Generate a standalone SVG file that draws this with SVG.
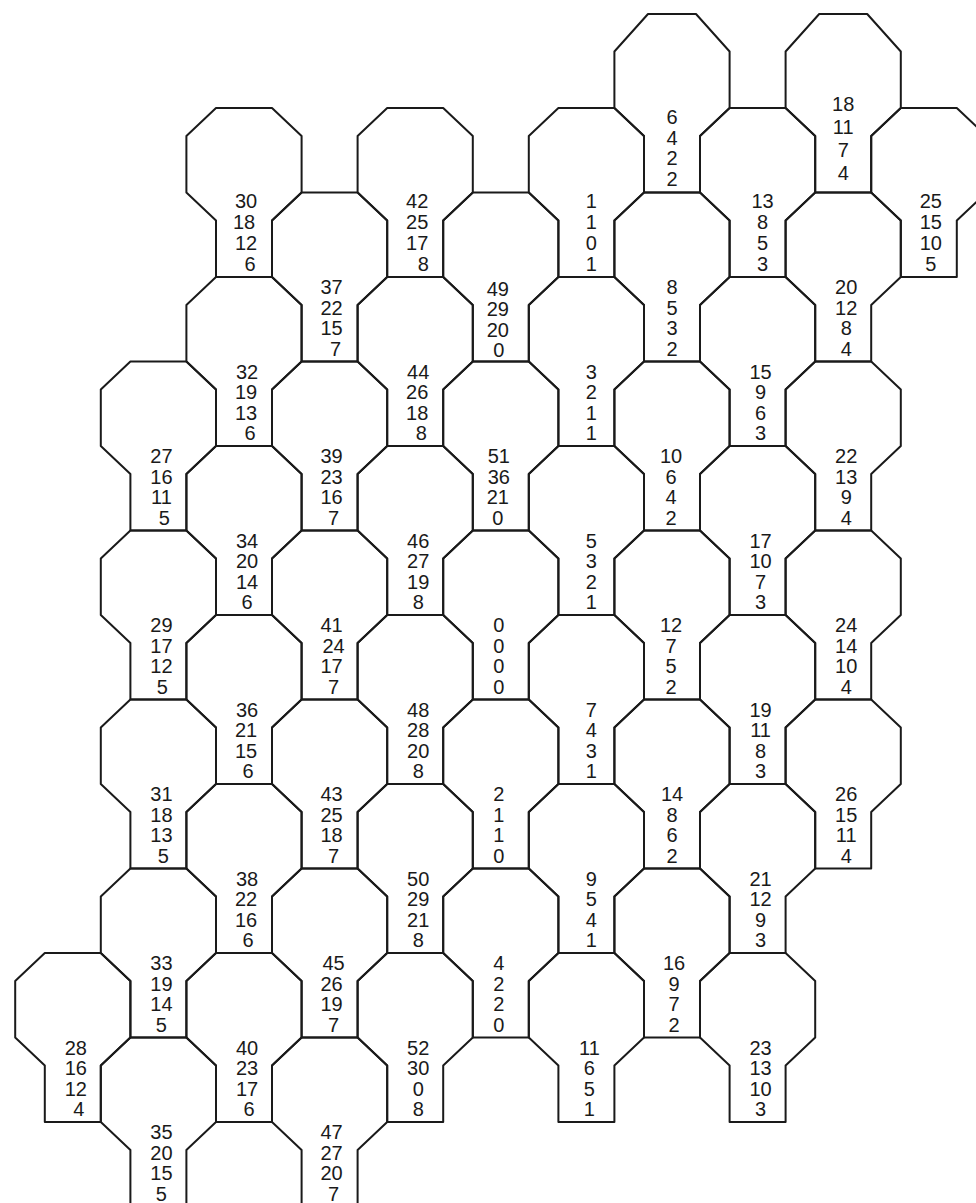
<svg xmlns="http://www.w3.org/2000/svg" xmlns:xlink="http://www.w3.org/1999/xlink" width="976" height="1203" viewBox="0 0 976 1203">
<defs>
<style>
.edge{fill:none;stroke:#1a1a1a;stroke-width:2;stroke-linejoin:round;stroke-linecap:round}
text{font-family:"Liberation Sans","DejaVu Sans",sans-serif;font-size:20px;fill:#1a1a1a;text-anchor:middle}
</style>
<path id="tile" class="edge" d="M-28,0 V-56.5 L-57.6,-84.5 V-141 L-28,-169 H28 L57.6,-141 V-84.5 L28,-56.5 V0 Z"/>
<path id="tall" class="edge" d="M-28,0 V-56.5 L-57.6,-84.5 V-141 L-24,-178.5 H24 L57.6,-141 V-84.5 L28,-56.5 V0 Z"/>
</defs>
<rect width="976" height="1203" fill="#ffffff"/>

<!-- column i=-2 -->
<g id="t28" transform="translate(72.8,1122)"><use href="#tile"/><text x="3" y="-67.5">28</text><text x="3" y="-47">16</text><text x="3" y="-26.5">12</text><text x="6" y="-6">4</text></g>

<!-- column i=-1 -->
<g id="t27" transform="translate(158.4,530.5)"><use href="#tile"/><text x="3" y="-67.5">27</text><text x="3" y="-47">16</text><text x="3" y="-26.5">11</text><text x="6" y="-6">5</text></g>
<g id="t29" transform="translate(158.4,699.5)"><use href="#tile"/><text x="3" y="-67.5">29</text><text x="3" y="-47">17</text><text x="3" y="-26.5">12</text><text x="4" y="-6">5</text></g>
<g id="t31" transform="translate(158.4,868.5)"><use href="#tile"/><text x="3" y="-67.5">31</text><text x="3" y="-47">18</text><text x="3" y="-26.5">13</text><text x="5" y="-6">5</text></g>
<g id="t33" transform="translate(158.4,1037.5)"><use href="#tile"/><text x="3" y="-67.5">33</text><text x="3" y="-47">19</text><text x="3" y="-26.5">14</text><text x="3" y="-6">5</text></g>
<g id="t35" transform="translate(158.4,1206.5)"><use href="#tile"/><text x="3" y="-67.5">35</text><text x="3" y="-47">20</text><text x="3" y="-26.5">15</text><text x="3" y="-6">5</text></g>

<!-- column i=0 -->
<g id="t30" transform="translate(244,277)"><use href="#tile"/><text x="2" y="-69">30</text><text x="0" y="-48">18</text><text x="2" y="-27">12</text><text x="6" y="-6">6</text></g>
<g id="t32" transform="translate(244,446)"><use href="#tile"/><text x="3" y="-67.5">32</text><text x="2" y="-47">19</text><text x="2" y="-26.5">13</text><text x="6" y="-6">6</text></g>
<g id="t34" transform="translate(244,615)"><use href="#tile"/><text x="3" y="-67.5">34</text><text x="3" y="-47">20</text><text x="3" y="-26.5">14</text><text x="3" y="-6">6</text></g>
<g id="t36" transform="translate(244,784)"><use href="#tile"/><text x="3" y="-67.5">36</text><text x="2" y="-47">21</text><text x="2" y="-26.5">15</text><text x="4" y="-6">6</text></g>
<g id="t38" transform="translate(244,953)"><use href="#tile"/><text x="3" y="-67.5">38</text><text x="2" y="-47">22</text><text x="2" y="-26.5">16</text><text x="4" y="-6">6</text></g>
<g id="t40" transform="translate(244,1122)"><use href="#tile"/><text x="3" y="-67.5">40</text><text x="3" y="-47">23</text><text x="3" y="-26.5">17</text><text x="5" y="-6">6</text></g>

<!-- column i=1 -->
<g id="t37" transform="translate(329.6,361.5)"><use href="#tile"/><text x="2" y="-67.5">37</text><text x="2" y="-47">22</text><text x="2" y="-26.5">15</text><text x="6" y="-6">7</text></g>
<g id="t39" transform="translate(329.6,530.5)"><use href="#tile"/><text x="2" y="-67.5">39</text><text x="2" y="-47">23</text><text x="2" y="-26.5">16</text><text x="4" y="-6">7</text></g>
<g id="t41" transform="translate(329.6,699.5)"><use href="#tile"/><text x="2" y="-67.5">41</text><text x="4" y="-47">24</text><text x="2" y="-26.5">17</text><text x="4" y="-6">7</text></g>
<g id="t43" transform="translate(329.6,868.5)"><use href="#tile"/><text x="2" y="-67.5">43</text><text x="2" y="-47">25</text><text x="2" y="-26.5">18</text><text x="4" y="-6">7</text></g>
<g id="t45" transform="translate(329.6,1037.5)"><use href="#tile"/><text x="4" y="-67.5">45</text><text x="2" y="-47">26</text><text x="2" y="-26.5">19</text><text x="4" y="-6">7</text></g>
<g id="t47" transform="translate(329.6,1206.5)"><use href="#tile"/><text x="2" y="-67.5">47</text><text x="2" y="-47">27</text><text x="2" y="-26.5">20</text><text x="4" y="-6">7</text></g>

<!-- column i=2 -->
<g id="t42" transform="translate(415.2,277)"><use href="#tile"/><text x="2" y="-69">42</text><text x="2" y="-48">25</text><text x="2" y="-27">17</text><text x="8" y="-6">8</text></g>
<g id="t44" transform="translate(415.2,446)"><use href="#tile"/><text x="3" y="-67.5">44</text><text x="2" y="-47">26</text><text x="2" y="-26.5">18</text><text x="6" y="-6">8</text></g>
<g id="t46" transform="translate(415.2,615)"><use href="#tile"/><text x="3" y="-67.5">46</text><text x="3" y="-47">27</text><text x="3" y="-26.5">19</text><text x="3" y="-6">8</text></g>
<g id="t48" transform="translate(415.2,784)"><use href="#tile"/><text x="3" y="-67.5">48</text><text x="3" y="-47">28</text><text x="3" y="-26.5">20</text><text x="3" y="-6">8</text></g>
<g id="t50" transform="translate(415.2,953)"><use href="#tile"/><text x="3" y="-67.5">50</text><text x="3" y="-47">29</text><text x="3" y="-26.5">21</text><text x="3" y="-6">8</text></g>
<g id="t52" transform="translate(415.2,1122)"><use href="#tile"/><text x="3" y="-67.5">52</text><text x="3" y="-47">30</text><text x="3" y="-26.5">0</text><text x="3" y="-6">8</text></g>

<!-- column i=3 -->
<g id="t49" transform="translate(500.8,361.5)"><use href="#tile"/><text x="-3" y="-66">49</text><text x="-3" y="-45.5">29</text><text x="-3" y="-25">20</text><text x="-2" y="-4.5">0</text></g>
<g id="t51" transform="translate(500.8,530.5)"><use href="#tile"/><text x="-2" y="-67.5">51</text><text x="-2" y="-47">36</text><text x="-3" y="-26.5">21</text><text x="-3" y="-6">0</text></g>
<g id="t0" transform="translate(500.8,699.5)"><use href="#tile"/><text x="-2" y="-67.5">0</text><text x="-2" y="-47">0</text><text x="-2" y="-26.5">0</text><text x="-2" y="-6">0</text></g>
<g id="t2" transform="translate(500.8,868.5)"><use href="#tile"/><text x="-2" y="-67.5">2</text><text x="-2" y="-47">1</text><text x="-2" y="-26.5">1</text><text x="-2" y="-6">0</text></g>
<g id="t4" transform="translate(500.8,1037.5)"><use href="#tile"/><text x="-2" y="-67.5">4</text><text x="-2" y="-47">2</text><text x="-2" y="-26.5">2</text><text x="-2" y="-6">0</text></g>

<!-- column i=4 -->
<g id="t1" transform="translate(586.4,277)"><use href="#tile"/><text x="5" y="-69">1</text><text x="5" y="-48">1</text><text x="5" y="-27">0</text><text x="5" y="-6">1</text></g>
<g id="t3" transform="translate(586.4,446)"><use href="#tile"/><text x="5" y="-67.5">3</text><text x="5" y="-47">2</text><text x="5" y="-26.5">1</text><text x="5" y="-6">1</text></g>
<g id="t5" transform="translate(586.4,615)"><use href="#tile"/><text x="5" y="-67.5">5</text><text x="5" y="-47">3</text><text x="5" y="-26.5">2</text><text x="5" y="-6">1</text></g>
<g id="t7" transform="translate(586.4,784)"><use href="#tile"/><text x="5" y="-67.5">7</text><text x="5" y="-47">4</text><text x="5" y="-26.5">3</text><text x="5" y="-6">1</text></g>
<g id="t9" transform="translate(586.4,953)"><use href="#tile"/><text x="5" y="-67.5">9</text><text x="5" y="-47">5</text><text x="5" y="-26.5">4</text><text x="5" y="-6">1</text></g>
<g id="t11" transform="translate(586.4,1122)"><use href="#tile"/><text x="3" y="-67.5">11</text><text x="3" y="-47">6</text><text x="3" y="-26.5">5</text><text x="3" y="-6">1</text></g>

<!-- column i=5 -->
<g id="t6" transform="translate(672,192.5)"><use href="#tall"/><text x="0" y="-69">6</text><text x="0" y="-48">4</text><text x="0" y="-27.5">2</text><text x="0" y="-7">2</text></g>
<g id="t8" transform="translate(672,361.5)"><use href="#tile"/><text x="0" y="-67.5">8</text><text x="0" y="-47">5</text><text x="0" y="-26.5">3</text><text x="0" y="-6">2</text></g>
<g id="t10" transform="translate(672,530.5)"><use href="#tile"/><text x="-1" y="-67.5">10</text><text x="-1" y="-47">6</text><text x="-1" y="-26.5">4</text><text x="-1" y="-6">2</text></g>
<g id="t12" transform="translate(672,699.5)"><use href="#tile"/><text x="-1" y="-67.5">12</text><text x="-1" y="-47">7</text><text x="-1" y="-26.5">5</text><text x="-1" y="-6">2</text></g>
<g id="t14" transform="translate(672,868.5)"><use href="#tile"/><text x="0" y="-67.5">14</text><text x="0" y="-47">8</text><text x="0" y="-26.5">6</text><text x="0" y="-6">2</text></g>
<g id="t16" transform="translate(672,1037.5)"><use href="#tile"/><text x="2" y="-67.5">16</text><text x="2" y="-47">9</text><text x="2" y="-26.5">7</text><text x="2" y="-6">2</text></g>

<!-- column i=6 -->
<g id="t13" transform="translate(757.6,277)"><use href="#tile"/><text x="5" y="-69">13</text><text x="5" y="-48">8</text><text x="5" y="-27">5</text><text x="5" y="-6">3</text></g>
<g id="t15" transform="translate(757.6,446)"><use href="#tile"/><text x="3" y="-67.5">15</text><text x="3" y="-47">9</text><text x="3" y="-26.5">6</text><text x="3" y="-6">3</text></g>
<g id="t17" transform="translate(757.6,615)"><use href="#tile"/><text x="3" y="-67.5">17</text><text x="3" y="-47">10</text><text x="3" y="-26.5">7</text><text x="3" y="-6">3</text></g>
<g id="t19" transform="translate(757.6,784)"><use href="#tile"/><text x="3" y="-67.5">19</text><text x="3" y="-47">11</text><text x="3" y="-26.5">8</text><text x="3" y="-6">3</text></g>
<g id="t21" transform="translate(757.6,953)"><use href="#tile"/><text x="3" y="-67.5">21</text><text x="3" y="-47">12</text><text x="3" y="-26.5">9</text><text x="3" y="-6">3</text></g>
<g id="t23" transform="translate(757.6,1122)"><use href="#tile"/><text x="3" y="-67.5">23</text><text x="3" y="-47">13</text><text x="3" y="-26.5">10</text><text x="3" y="-6">3</text></g>

<!-- column i=7 -->
<g id="t18" transform="translate(843.2,192.5)"><use href="#tall"/><text x="0" y="-82" font-size="21">18</text><text x="0" y="-59" font-size="21">11</text><text x="0" y="-36" font-size="21">7</text><text x="0" y="-13" font-size="21">4</text></g>
<g id="t20" transform="translate(843.2,361.5)"><use href="#tile"/><text x="3" y="-67.5">20</text><text x="3" y="-47">12</text><text x="3" y="-26.5">8</text><text x="3" y="-6">4</text></g>
<g id="t22" transform="translate(843.2,530.5)"><use href="#tile"/><text x="3" y="-67.5">22</text><text x="3" y="-47">13</text><text x="3" y="-26.5">9</text><text x="3" y="-6">4</text></g>
<g id="t24" transform="translate(843.2,699.5)"><use href="#tile"/><text x="3" y="-67.5">24</text><text x="3" y="-47">14</text><text x="3" y="-26.5">10</text><text x="3" y="-6">4</text></g>
<g id="t26" transform="translate(843.2,868.5)"><use href="#tile"/><text x="3" y="-67.5">26</text><text x="3" y="-47">15</text><text x="3" y="-26.5">11</text><text x="3" y="-6">4</text></g>

<!-- column i=8 -->
<g id="t25" transform="translate(928.8,277)"><use href="#tile"/><text x="2" y="-69">25</text><text x="2" y="-48">15</text><text x="2" y="-27">10</text><text x="2" y="-6">5</text></g>
</svg>
